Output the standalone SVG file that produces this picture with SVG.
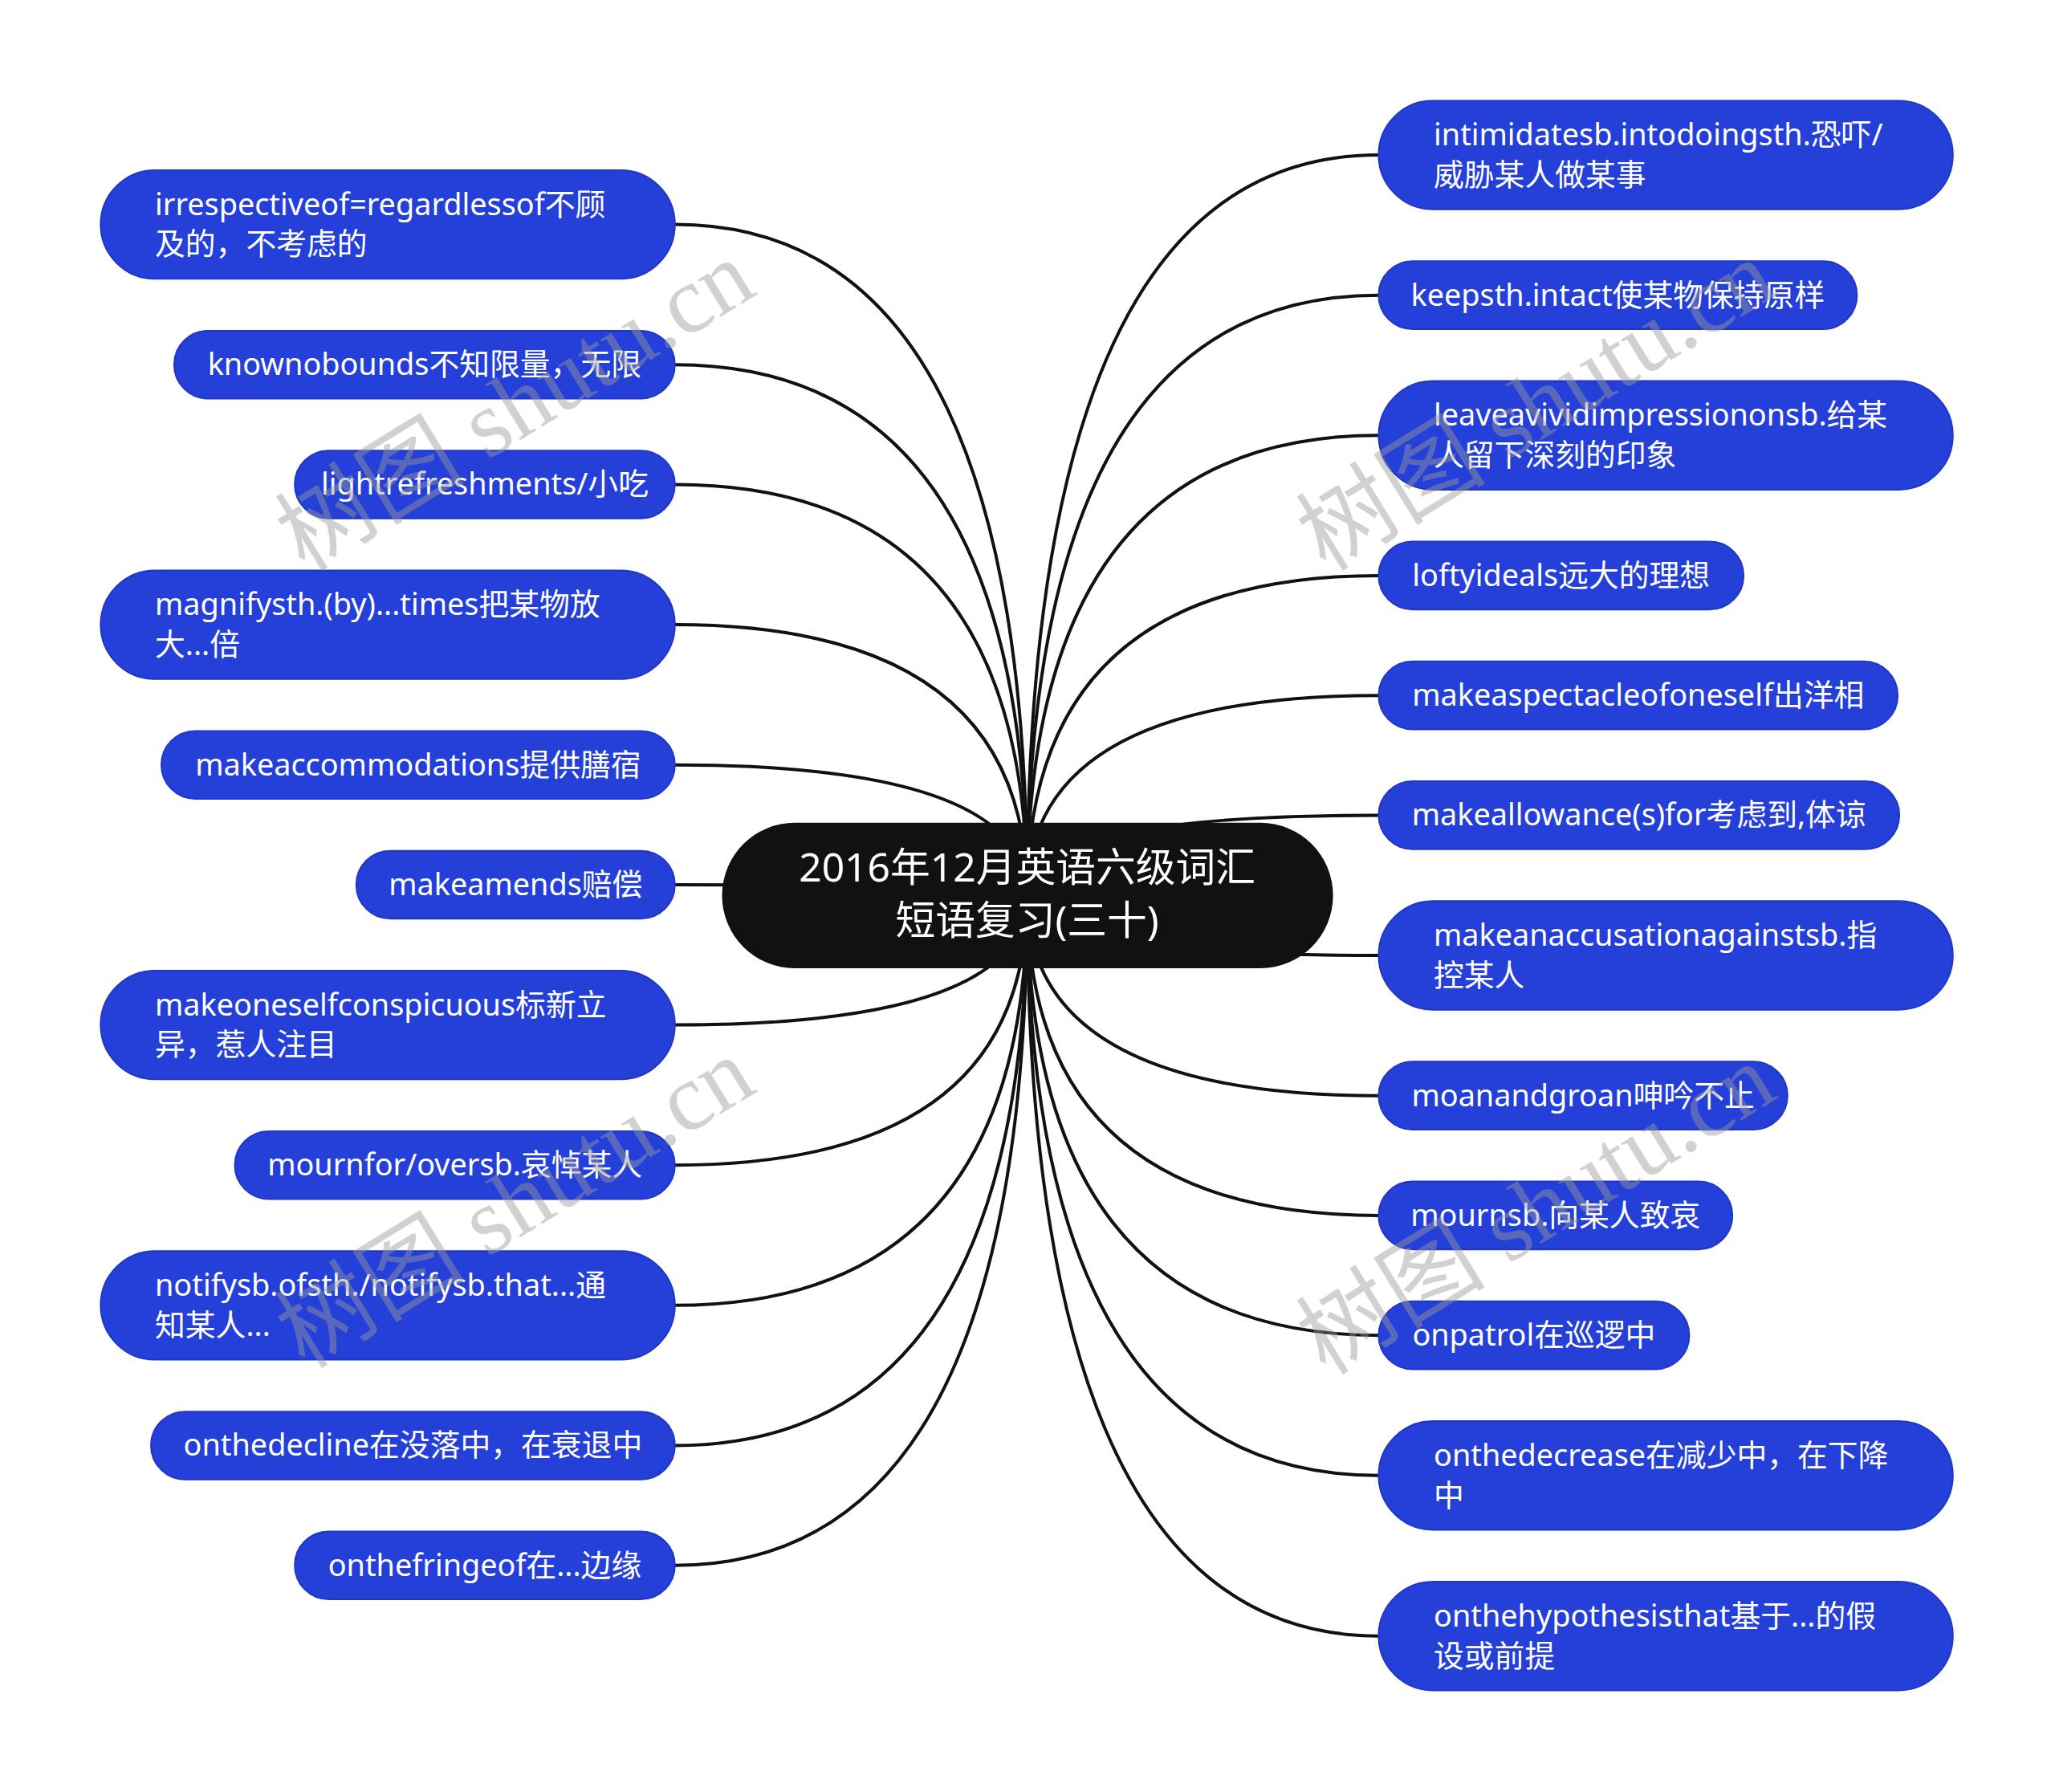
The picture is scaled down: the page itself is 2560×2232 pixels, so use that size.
<svg xmlns="http://www.w3.org/2000/svg" width="2560" height="2232" viewBox="0 0 2560 2232">
<style>
.bg{fill:#ffffff}
.node rect{fill:#2540d8;stroke:#1f37c4;stroke-width:2}
.node text{font-family:"Noto Sans","Noto Sans CJK SC",sans-serif;font-size:38px;fill:#ffffff}
.c{text-anchor:middle}
#center rect{fill:#111111}
#center text{font-family:"Noto Sans","Noto Sans CJK SC",sans-serif;font-size:50px;fill:#ffffff;text-anchor:middle}
#connectors path{fill:none;stroke:#111111;stroke-width:4}
.wm{font-family:"Liberation Serif","Noto Sans CJK SC",serif;font-size:119px;fill:#999999;fill-opacity:0.45}
</style>
<rect class="bg" x="0" y="0" width="2560" height="2232"/>
<g id="diagram" transform="scale(0.995)">
<g id="connectors">
<path d="M1286,1121 Q1286,281 845,281"/>
<path d="M1286,1121 Q1286,456.5 845,456.5"/>
<path d="M1286,1121 Q1286,606.5 845,606.5"/>
<path d="M1286,1121 Q1286,782 845,782"/>
<path d="M1286,1121 Q1286,957.5 845,957.5"/>
<path d="M1286,1121 Q1286,1107.5 845,1107.5"/>
<path d="M1286,1121 Q1286,1283 845,1283"/>
<path d="M1286,1121 Q1286,1458.5 845,1458.5"/>
<path d="M1286,1121 Q1286,1634 845,1634"/>
<path d="M1286,1121 Q1286,1809.5 845,1809.5"/>
<path d="M1286,1121 Q1286,1959.5 845,1959.5"/>
<path d="M1286,1121 Q1286,194 1726,194"/>
<path d="M1286,1121 Q1286,369.5 1726,369.5"/>
<path d="M1286,1121 Q1286,545 1726,545"/>
<path d="M1286,1121 Q1286,720.5 1726,720.5"/>
<path d="M1286,1121 Q1286,870.5 1726,870.5"/>
<path d="M1286,1121 Q1286,1020.5 1726,1020.5"/>
<path d="M1286,1121 Q1286,1196 1726,1196"/>
<path d="M1286,1121 Q1286,1371.5 1726,1371.5"/>
<path d="M1286,1121 Q1286,1521.5 1726,1521.5"/>
<path d="M1286,1121 Q1286,1671.5 1726,1671.5"/>
<path d="M1286,1121 Q1286,1847 1726,1847"/>
<path d="M1286,1121 Q1286,2048 1726,2048"/>
</g>
<g id="center">
<rect x="904" y="1030" width="765" height="182" rx="91"/>
<text x="1286" y="1104">2016年12月英语六级词汇</text>
<text x="1286" y="1170">短语复习(三十)</text>
</g>
<g id="n-l1" class="node"><rect x="126" y="213" width="719" height="136" rx="68"/><text x="194" y="269">irrespectiveof=regardlessof不顾</text><text x="194" y="319">及的，不考虑的</text></g>
<g id="n-l2" class="node"><rect x="218" y="414" width="627" height="85" rx="42.5"/><text class="c" x="531.5" y="469.5">knownobounds不知限量，无限</text></g>
<g id="n-l3" class="node"><rect x="369" y="564" width="476" height="85" rx="42.5"/><text class="c" x="607" y="619.5">lightrefreshments/小吃</text></g>
<g id="n-l4" class="node"><rect x="126" y="714" width="719" height="136" rx="68"/><text x="194" y="770">magnifysth.(by)...times把某物放</text><text x="194" y="820">大...倍</text></g>
<g id="n-l5" class="node"><rect x="202" y="915" width="643" height="85" rx="42.5"/><text class="c" x="523.5" y="970.5">makeaccommodations提供膳宿</text></g>
<g id="n-l6" class="node"><rect x="446" y="1065" width="399" height="85" rx="42.5"/><text class="c" x="645.5" y="1120.5">makeamends赔偿</text></g>
<g id="n-l7" class="node"><rect x="126" y="1215" width="719" height="136" rx="68"/><text x="194" y="1271">makeoneselfconspicuous标新立</text><text x="194" y="1321">异，惹人注目</text></g>
<g id="n-l8" class="node"><rect x="294" y="1416" width="551" height="85" rx="42.5"/><text class="c" x="569.5" y="1471.5">mournfor/oversb.哀悼某人</text></g>
<g id="n-l9" class="node"><rect x="126" y="1566" width="719" height="136" rx="68"/><text x="194" y="1622">notifysb.ofsth./notifysb.that...通</text><text x="194" y="1672">知某人...</text></g>
<g id="n-l10" class="node"><rect x="189" y="1767" width="656" height="85" rx="42.5"/><text class="c" x="517" y="1822.5">onthedecline在没落中，在衰退中</text></g>
<g id="n-l11" class="node"><rect x="369" y="1917" width="476" height="85" rx="42.5"/><text class="c" x="607" y="1972.5">onthefringeof在...边缘</text></g>
<g id="n-r1" class="node"><rect x="1726" y="126" width="719" height="136" rx="68"/><text x="1795" y="182">intimidatesb.intodoingsth.恐吓/</text><text x="1795" y="232">威胁某人做某事</text></g>
<g id="n-r2" class="node"><rect x="1726" y="327" width="599" height="85" rx="42.5"/><text class="c" x="2025.5" y="382.5">keepsth.intact使某物保持原样</text></g>
<g id="n-r3" class="node"><rect x="1726" y="477" width="719" height="136" rx="68"/><text x="1795" y="533">leaveavividimpressiononsb.给某</text><text x="1795" y="583">人留下深刻的印象</text></g>
<g id="n-r4" class="node"><rect x="1726" y="678" width="457" height="85" rx="42.5"/><text class="c" x="1954.5" y="733.5">loftyideals远大的理想</text></g>
<g id="n-r5" class="node"><rect x="1726" y="828" width="650" height="85" rx="42.5"/><text class="c" x="2051" y="883.5">makeaspectacleofoneself出洋相</text></g>
<g id="n-r6" class="node"><rect x="1726" y="978" width="652" height="85" rx="42.5"/><text class="c" x="2052" y="1033.5">makeallowance(s)for考虑到,体谅</text></g>
<g id="n-r7" class="node"><rect x="1726" y="1128" width="719" height="136" rx="68"/><text x="1795" y="1184">makeanaccusationagainstsb.指</text><text x="1795" y="1234">控某人</text></g>
<g id="n-r8" class="node"><rect x="1726" y="1329" width="512" height="85" rx="42.5"/><text class="c" x="1982" y="1384.5">moanandgroan呻吟不止</text></g>
<g id="n-r9" class="node"><rect x="1726" y="1479" width="443" height="85" rx="42.5"/><text class="c" x="1947.5" y="1534.5">mournsb.向某人致哀</text></g>
<g id="n-r10" class="node"><rect x="1726" y="1629" width="389" height="85" rx="42.5"/><text class="c" x="1920.5" y="1684.5">onpatrol在巡逻中</text></g>
<g id="n-r11" class="node"><rect x="1726" y="1779" width="719" height="136" rx="68"/><text x="1795" y="1835">onthedecrease在减少中，在下降</text><text x="1795" y="1885">中</text></g>
<g id="n-r12" class="node"><rect x="1726" y="1980" width="719" height="136" rx="68"/><text x="1795" y="2036">onthehypothesisthat基于...的假</text><text x="1795" y="2086">设或前提</text></g>
<g id="watermarks">
<text class="wm" text-anchor="middle" transform="translate(666,542) rotate(-31.6)">树图 shutu.cn</text>
<text class="wm" text-anchor="middle" transform="translate(1944,542) rotate(-31.6)">树图 shutu.cn</text>
<text class="wm" text-anchor="middle" transform="translate(666,1540) rotate(-31.6)">树图 shutu.cn</text>
<text class="wm" text-anchor="middle" transform="translate(1944,1548) rotate(-31.6)">树图 shutu.cn</text>
</g>
</g>
</svg>
